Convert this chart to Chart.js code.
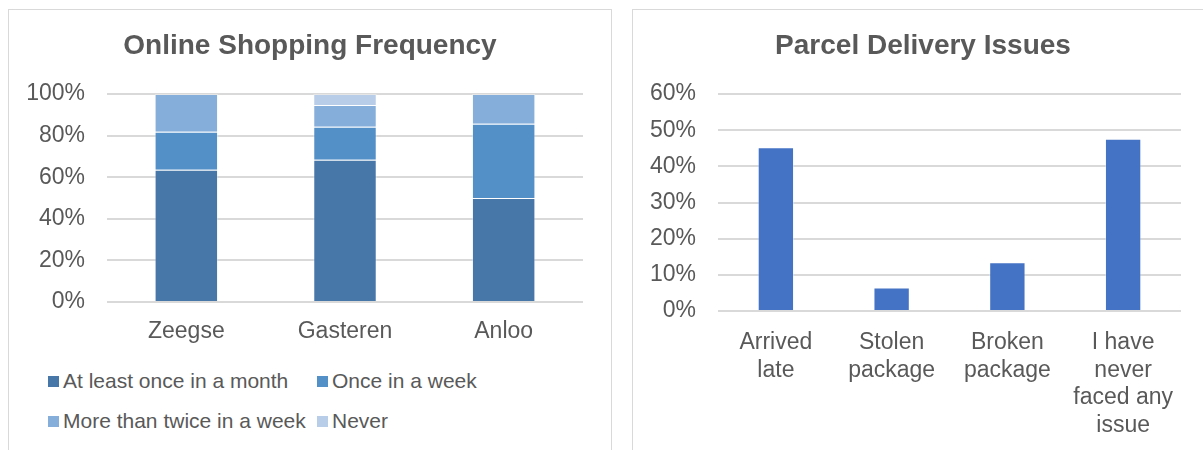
<!DOCTYPE html>
<html>
<head>
<meta charset="utf-8">
<script src="https://cdn.jsdelivr.net/npm/chart.js@4/dist/chart.umd.min.js"></script>
<style>
  html, body { margin: 0; padding: 0; background: #fff; overflow: hidden; }
  body { width: 1203px; height: 450px; position: relative; }
  .panel {
    position: absolute;
    border: 1px solid #d9d9d9;
    background: #fff;
    font-family: "Liberation Sans", Arial, sans-serif;
    color: #595959;
  }
  #left-panel { left: 8px; top: 9px; width: 602px; height: 460px; }
  #right-panel { left: 632px; top: 9px; width: 580px; height: 460px; }
  canvas { position: absolute; left: 0; top: 0; }
  .title {
    position: absolute;
    left: 0;
    right: 0;
    top: 18px;
    text-align: center;
    font-size: 28px;
    font-weight: bold;
    line-height: 34px;
    white-space: nowrap;
  }
  .legend {
    position: absolute;
    left: 39px;
    top: 359px;
    display: grid;
    grid-template-columns: 269px auto;
    row-gap: 16px;
    font-size: 21px;
  }
  .legend-item { display: flex; align-items: center; height: 24px; white-space: nowrap; }
  .legend-box { width: 11px; height: 11px; margin-right: 4px; }
</style>
</head>
<body>
<div class="panel" id="left-panel">
  <canvas id="frequencyChart" width="602" height="345"></canvas>
  <div class="title">Online Shopping Frequency</div>
  <div class="legend" id="frequency-legend"></div>
</div>
<div class="panel" id="right-panel">
  <canvas id="issuesChart" width="580" height="445"></canvas>
  <div class="title">Parcel Delivery Issues</div>
</div>

<script>
// ==================== DATA ====================
const towns = ['Zeegse', 'Gasteren', 'Anloo'];
const atLeastMonthly = [63.6, 68.4, 50.0];
const onceWeekly = [18.2, 15.8, 35.7];
const moreThanTwiceWeekly = [18.2, 10.5, 14.3];
const never = [0, 5.3, 0];
const frequencyTicks = [0, 20, 40, 60, 80, 100];

const issues = [
  ['Arrived', 'late'],
  ['Stolen', 'package'],
  ['Broken', 'package'],
  ['I have', 'never', 'faced any', 'issue']
];
const issueShares = [45.3, 6.5, 13.5, 47.6];
const issueTicks = [0, 10, 20, 30, 40, 50, 60];

// ==================== SHARED STYLE ====================
const FONT = '"Liberation Sans", Arial, sans-serif';
const TEXT = '#595959';
const GRID = '#d9d9d9';

Chart.defaults.font.family = FONT;
Chart.defaults.color = TEXT;

const pct = v => v + '%';

function yScale(ticks, width) {
  return {
    min: ticks[0],
    max: ticks[ticks.length - 1],
    afterBuildTicks: scale => { scale.ticks = ticks.map(v => ({ value: v })); },
    afterFit: scale => { scale.width = width; },
    grid: { color: GRID, lineWidth: 2, drawTicks: false },
    border: { display: false },
    ticks: { font: { size: 23 }, padding: 22, callback: pct }
  };
}

function xScale(height, padding) {
  return {
    afterFit: scale => { scale.height = height; },
    grid: { display: false, drawTicks: false },
    border: { display: false },
    ticks: { font: { size: 23, lineHeight: 1.2 }, padding: padding, maxRotation: 0, autoSkip: false }
  };
}

// ==================== ONLINE SHOPPING FREQUENCY ====================
const frequencySeries = [
  { label: 'At least once in a month', data: atLeastMonthly, color: '#4677a8' },
  { label: 'Once in a week', data: onceWeekly, color: '#5390c8' },
  { label: 'More than twice in a week', data: moreThanTwiceWeekly, color: '#86aedb' },
  { label: 'Never', data: never, color: '#b7cde8' }
];

new Chart(document.getElementById('frequencyChart'), {
  type: 'bar',
  data: {
    labels: towns,
    datasets: frequencySeries.map(s => ({
      label: s.label,
      data: s.data,
      backgroundColor: s.color,
      borderColor: 'rgba(255,255,255,0.35)',
      borderWidth: 1,
      barPercentage: 0.4,
      categoryPercentage: 1
    }))
  },
  options: {
    responsive: false,
    animation: false,
    devicePixelRatio: 1,
    layout: { padding: { left: 0, right: 28, top: 84, bottom: 0 } },
    scales: {
      x: Object.assign(xScale(53, 16), { stacked: true }),
      y: Object.assign(yScale(frequencyTicks, 98), { stacked: true })
    },
    plugins: {
      legend: { display: false },
      tooltip: { enabled: false }
    }
  }
});

// Legend laid out in aligned columns
const legendEl = document.getElementById('frequency-legend');
frequencySeries.forEach(s => {
  const item = document.createElement('div');
  item.className = 'legend-item';
  item.innerHTML = '<span class="legend-box" style="background:' + s.color + '"></span>' + s.label;
  legendEl.appendChild(item);
});

// ==================== PARCEL DELIVERY ISSUES ====================
new Chart(document.getElementById('issuesChart'), {
  type: 'bar',
  data: {
    labels: issues,
    datasets: [{
      label: 'Parcel Delivery Issues',
      data: issueShares,
      backgroundColor: '#4472c4',
      borderColor: 'rgba(255,255,255,0.35)',
      borderWidth: 1,
      barPercentage: 0.314,
      categoryPercentage: 1
    }]
  },
  options: {
    responsive: false,
    animation: false,
    devicePixelRatio: 1,
    layout: { padding: { left: 0, right: 32, top: 84, bottom: 0 } },
    scales: {
      x: xScale(144, 18),
      y: yScale(issueTicks, 85)
    },
    plugins: {
      legend: { display: false },
      tooltip: { enabled: false }
    }
  }
});
</script>
</body>
</html>
